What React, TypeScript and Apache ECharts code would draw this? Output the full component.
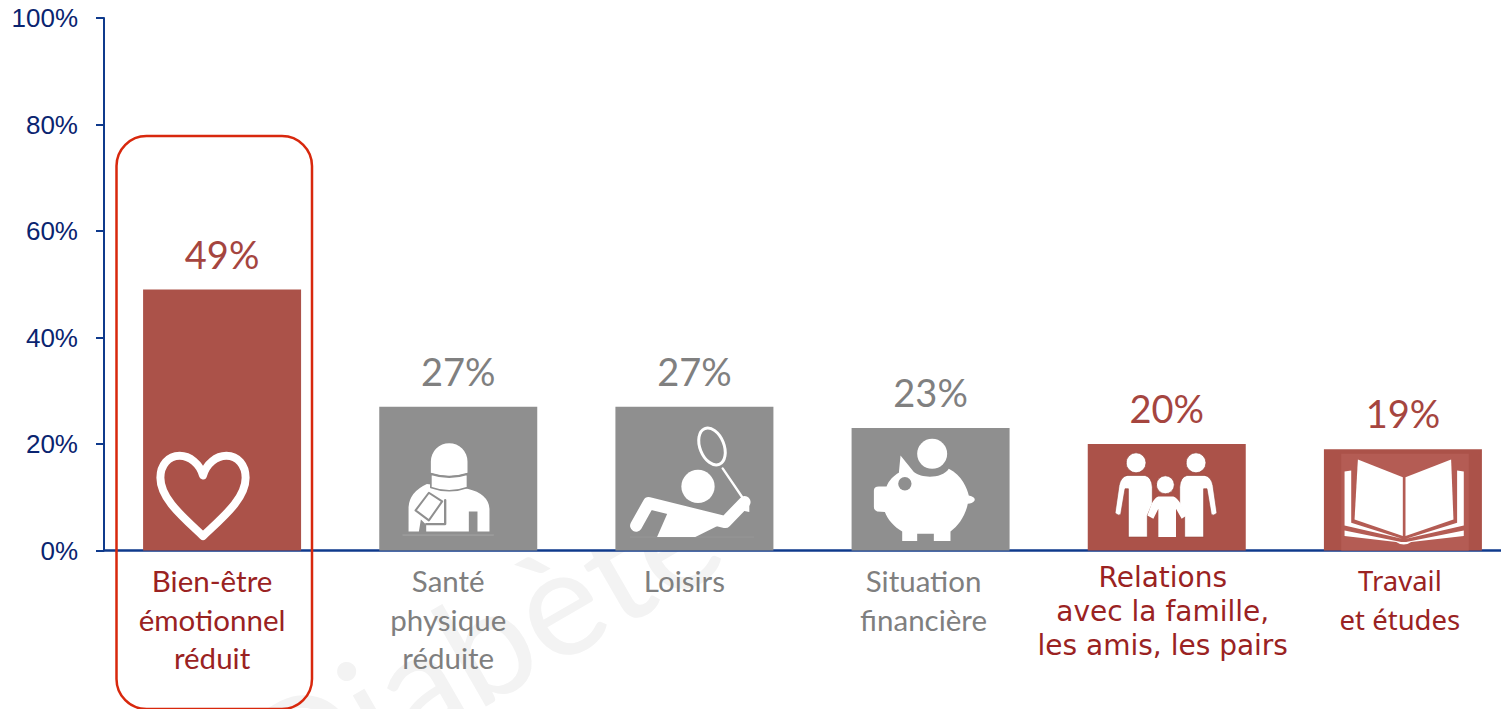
import React, { useEffect, useRef } from "react";
import * as echarts from "echarts";

const categories = [
  "Bien-être\némotionnel\nréduit",
  "Santé\nphysique\nréduite",
  "Loisirs",
  "Situation\nfinancière",
  "Relations\navec la famille,\nles amis, les pairs",
  "Travail\net études",
];
const values = [49, 27, 27, 23, 20, 19];
const emphasised = [true, false, false, false, true, true];
const verdanaLabels = [false, false, false, false, true, false];
const notoLabels = [false, false, false, false, false, true];
const labelRightPadding = [20, 20, 20, 14, 8, 6];

const BAR_RED = "#ab5249";
const BAR_GREY = "#8f8f8f";
const AXIS = "#0f3a8c";

const circle = (cx: number, cy: number, r: number) =>
  `M${cx - r} ${cy}A${r} ${r} 0 1 1 ${cx + r} ${cy}A${r} ${r} 0 1 1 ${cx - r} ${cy}Z`;

type Part = { d: string; fill?: string; stroke?: string; width?: number };
type Icon = { dx: number; dy: number; parts: Part[] };

const W = "#ffffff";
const icons: Icon[] = [
  {
    dx: -89,
    dy: -130,
    parts: [
      {
        d: "M210 165C200 130 170 106 140 106C105 106 82 135 82 172C82 235 150 290 210 347C270 290 338 235 338 172C338 135 315 106 280 106C250 106 220 130 210 165Z",
        stroke: W,
        width: 24,
      },
    ],
  },
  {
    dx: -78,
    dy: -125,
    parts: [
      { d: "M68 329L340 329", stroke: "#a6a6a6", width: 3 },
      {
        d: "M85 318L85 245Q88 200 140 176L262 190Q325 205 328 250L328 318L292 318L292 258L266 258L266 318L138 318L138 298L122 282L116 318Z",
        fill: W,
      },
      { d: "M152 108A55 55 0 0 1 262 108L262 142Q207 160 152 142Z", fill: W },
      { d: "M152 146Q207 164 262 146L262 186Q207 206 152 186Z", fill: W, stroke: BAR_GREY, width: 5 },
      { d: "M195 224L195 296L138 296", stroke: BAR_GREY, width: 7 },
      { d: "M146 202L186 228L146 285L106 255Z", fill: W, stroke: BAR_GREY, width: 6 },
    ],
  },
  {
    dx: -79,
    dy: -130,
    parts: [
      { d: "M45 350L415 350", stroke: "#9c9c9c", width: 2 },
      { d: circle(248, 198, 50), fill: W },
      {
        d: "M268.3 24.2C286.7 16.7 311.4 34.8 323.4 64.5C335.4 94.2 330.1 124.3 311.7 131.8C293.3 139.3 268.6 121.2 256.6 91.5C244.6 61.8 249.9 31.7 268.3 24.2Z",
        stroke: W,
        width: 9,
      },
      { d: "M322 144L382 232", stroke: W, width: 7 },
      { d: "M62 316L100 248L330 305L388 245", stroke: W, width: 36 },
      { d: "M160 270L320 310L240 350L125 350Z", fill: W },
      { d: "M385 230L402 240L402 275L380 270Z", fill: W },
    ],
  },
  {
    dx: -80,
    dy: -125,
    parts: [
      { d: circle(245, 85, 45), fill: W },
      {
        d: "M150 90L190 140C215 160 275 160 295 130C335 150 350 190 355 210C370 212 375 220 372 226C368 232 360 235 352 235C345 270 325 300 300 318L300 347L250 347L250 325L200 325L200 347L155 347L155 318C130 305 110 280 103 260L80 258Q70 255 70 245L70 195Q70 183 85 183L108 183C115 165 130 150 145 142Z",
        fill: W,
      },
      { d: circle(163, 175, 20), fill: BAR_GREY },
    ],
  },
  {
    dx: -80,
    dy: -110,
    parts: [
      { d: circle(148, 67, 30), fill: W, stroke: "#96453d", width: 2 },
      { d: circle(328, 67, 30), fill: W, stroke: "#96453d", width: 2 },
      { d: circle(236, 133, 27), fill: W, stroke: "#96453d", width: 2 },
      {
        d: "M120 105L175 105Q195 110 197 140L197 190L182 225L182 290L125 290L125 145L115 145L102 222Q95 228 85 218L97 135Q102 110 120 105Z",
        fill: W,
        stroke: "#96453d",
        width: 2,
      },
      {
        d: "M356 105L301 105Q281 110 279 140L279 190L294 225L294 290L351 290L351 145L361 145L374 222Q381 228 391 218L379 135Q374 110 356 105Z",
        fill: W,
        stroke: "#96453d",
        width: 2,
      },
      {
        d: "M215 168L260 168Q270 170 282 190L300 225L285 235L268 205L268 290L215 290L215 205L200 235L182 225L195 190Q205 170 215 168Z",
        fill: W,
      },
    ],
  },
  {
    dx: -80,
    dy: -105,
    parts: [
      { d: "M55 25L438 25L438 315L55 315Z", fill: "#b45c54" },
      { d: "M105 42L240 95L240 272L95 222Z", fill: W },
      { d: "M248 95L385 42L392 222L248 272Z", fill: W },
      { d: "M65 78L85 75L85 232L238 280L65 240Z", fill: W },
      { d: "M423 78L403 75L403 232L250 280L423 240Z", fill: W },
      { d: "M65 255L235 290L250 290L423 255L423 272L265 290Q243 305 220 290L65 272Z", fill: W },
    ],
  },
];

const shapeNames: string[][] = icons.map((icon, i) =>
  icon.parts.map((part, j) => {
    const name = `icon_${i}_${j}`;
    echarts.graphic.registerShape(name, echarts.graphic.extendPath(part.d, {}) as any);
    return name;
  })
);

export default function App() {
  const ref = useRef<HTMLDivElement>(null);

  useEffect(() => {
    document.body.style.margin = "0";
    document.body.style.overflow = "hidden";
    const chart = echarts.init(ref.current!, undefined, { renderer: "svg" });

    const categoryData = categories.map((value, i) => ({
      value,
      textStyle: {
        color: emphasised[i] ? "#9a2222" : "#7f7f7f",
        fontFamily: verdanaLabels[i]
          ? "DejaVu Sans"
          : notoLabels[i]
          ? "Noto Sans"
          : "Lato",
        fontSize: verdanaLabels[i] ? 28 : notoLabels[i] ? 27.5 : 29.5,
        lineHeight: verdanaLabels[i] ? 34 : 38.5,
        padding: [verdanaLabels[i] ? 0 : 1, labelRightPadding[i], 0, 0],
      },
    }));

    chart.setOption({
      animation: false,
      backgroundColor: "#ffffff",
      grid: {
        left: 104,
        top: 18,
        width: 1417,
        height: 532.5,
        containLabel: false,
        outerBoundsMode: "none",
      },
      xAxis: {
        type: "category",
        data: categoryData,
        axisLine: { lineStyle: { color: AXIS, width: 2.5 } },
        axisTick: { show: false },
        axisLabel: { interval: 0, margin: 10, verticalAlign: "top", align: "center" },
        splitLine: { show: false },
      },
      yAxis: {
        type: "value",
        min: 0,
        max: 100,
        interval: 20,
        axisLine: { show: true, lineStyle: { color: AXIS, width: 2 } },
        axisTick: { show: true, length: 8, lineStyle: { color: AXIS, width: 2 } },
        splitLine: { show: false },
        axisLabel: {
          formatter: "{value}%",
          color: "#0a2470",
          fontFamily: "Liberation Sans",
          fontSize: 26,
          margin: 26,
          padding: [2, 0, 0, 0],
        },
      },
      series: [
        {
          type: "bar",
          barWidth: 158,
          z: 2,
          data: values.map((value, i) => ({
            value,
            itemStyle: { color: emphasised[i] ? BAR_RED : BAR_GREY },
            label: { color: emphasised[i] ? "#a5453f" : "#808080" },
          })),
          label: {
            show: true,
            position: "top",
            distance: 17,
            formatter: "{c}%",
            fontFamily: "Lato",
            fontSize: 38,
          },
        },
        {
          type: "custom",
          z: 3,
          silent: true,
          data: values.map((_, i) => [i, 0]),
          renderItem: (_params: any, api: any) => {
            const i = api.value(0);
            const [x, y] = api.coord([i, 0]);
            const icon = icons[i];
            return {
              type: "group",
              x: x + icon.dx,
              y: y + icon.dy,
              scaleX: 1 / 3,
              scaleY: 1 / 3,
              children: icon.parts.map((part, j) => ({
                type: shapeNames[i][j],
                silent: true,
                style: {
                  fill: part.fill ?? "none",
                  stroke: part.stroke ?? "none",
                  lineWidth: part.width ?? 0,
                  lineJoin: "round",
                  lineCap: "round",
                },
              })),
            };
          },
        },
      ],
      graphic: {
        elements: [
          {
            type: "text",
            x: 292,
            y: 838,
            rotation: Math.PI / 6,
            z: -20,
            silent: true,
            style: {
              text: "Diabète",
              fontFamily: "Lato",
              fontSize: 150,
              fill: "#f3f3f3",
              textAlign: "left",
              textVerticalAlign: "bottom",
            },
          },
          {
            type: "rect",
            z: -10,
            silent: true,
            shape: { x: 0, y: 0, width: 1501, height: 551 },
            style: { fill: "#ffffff" },
          },
          {
            type: "rect",
            z: 100,
            silent: true,
            shape: { x: 116.5, y: 136, width: 195.5, height: 573, r: 30 },
            style: { fill: "none", stroke: "#d8280d", lineWidth: 2.5 },
          },
        ],
      },
    });
    return () => chart.dispose();
  }, []);

  return <div ref={ref} style={{ width: 1501, height: 709 }} />;
}
